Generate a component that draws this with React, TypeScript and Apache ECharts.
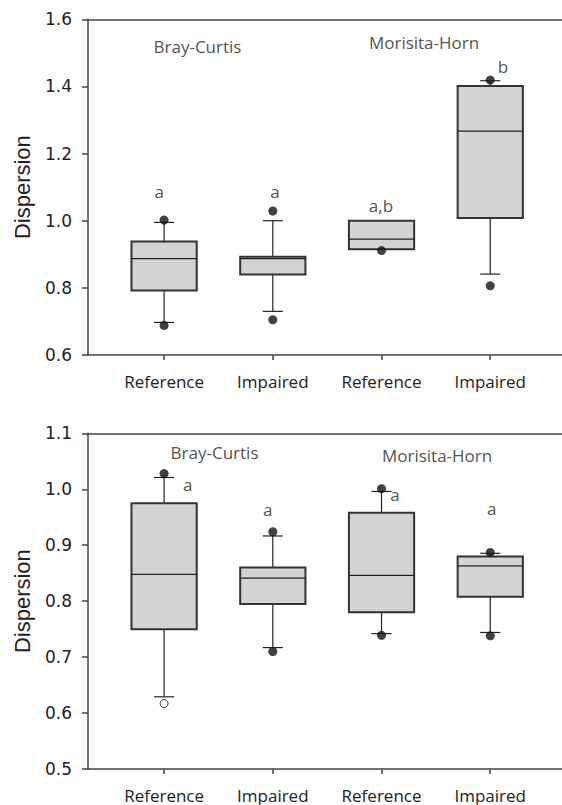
import React, { useEffect, useRef } from "react";
import * as echarts from "echarts";

const categories = ["Reference", "Impaired", "Reference", "Impaired"];
const categoryPositions = [1, 2, 3, 4];

// [position, lowWhisker, q1, median, q3, highWhisker]
const topBoxes = [
  [1, 0.697, 0.792, 0.887, 0.938, 0.995],
  [2, 0.730, 0.840, 0.887, 0.893, 1.000],
  [3, 0.915, 0.915, 0.945, 1.000, 1.000],
  [4, 0.841, 1.008, 1.267, 1.401, 1.417],
];
const topOutliers = [
  [1, 1.002], [1, 0.688], [2, 1.029], [2, 0.705], [3, 0.911], [4, 1.419], [4, 0.806],
];
const topLetters = [
  [0.956, 1.087, "a"],
  [2.02, 1.087, "a"],
  [2.995, 1.045, "a,b"],
  [4.118, 1.459, "b"],
];
const topTitles = [
  [1.307, 1.52, "Bray-Curtis"],
  [3.391, 1.532, "Morisita-Horn"],
];

const bottomBoxes = [
  [1, 0.629, 0.750, 0.848, 0.975, 1.021],
  [2, 0.717, 0.795, 0.841, 0.860, 0.9165],
  [3, 0.742, 0.780, 0.846, 0.958, 0.996],
  [4, 0.744, 0.808, 0.863, 0.880, 0.8855],
];
const bottomOutliers = [
  [1, 1.028], [2, 0.924], [2, 0.710], [3, 1.001], [3, 0.739], [4, 0.887], [4, 0.738],
];
const bottomOpenOutliers = [[1, 0.617]];
const bottomLetters = [
  [1.217, 1.008, "a"],
  [1.953, 0.963, "a"],
  [3.124, 0.990, "a"],
  [4.014, 0.966, "a"],
];
const bottomTitles = [
  [1.464, 1.065, "Bray-Curtis"],
  [3.511, 1.061, "Morisita-Horn"],
];

const AXIS_COLOR = "#444";
const TEXT_COLOR = "#222";
const LABEL_FONT = "'Open Sans', sans-serif";

const renderBox = (params: any, api: any) => {
  const x = api.value(0);
  const lo = api.coord([x, api.value(1)]);
  const q1 = api.coord([x, api.value(2)]);
  const med = api.coord([x, api.value(3)]);
  const q3 = api.coord([x, api.value(4)]);
  const hi = api.coord([x, api.value(5)]);
  const cx = lo[0];
  const hw = api.size([0.6, 0])[0] / 2;
  const cw = api.size([0.185, 0])[0] / 2;
  const ls = { stroke: "#222", lineWidth: 1.2 };
  return {
    type: "group",
    children: [
      { type: "line", shape: { x1: cx, y1: hi[1], x2: cx, y2: q3[1] }, style: ls },
      { type: "line", shape: { x1: cx, y1: q1[1], x2: cx, y2: lo[1] }, style: ls },
      { type: "line", shape: { x1: cx - cw, y1: hi[1], x2: cx + cw, y2: hi[1] }, style: ls },
      { type: "line", shape: { x1: cx - cw, y1: lo[1], x2: cx + cw, y2: lo[1] }, style: ls },
      {
        type: "rect",
        shape: { x: cx - hw, y: q3[1], width: 2 * hw, height: q1[1] - q3[1] },
        style: { fill: "#d3d3d3", stroke: "#333", lineWidth: 2 },
      },
      { type: "line", shape: { x1: cx - hw, y1: med[1], x2: cx + hw, y2: med[1] }, style: ls },
    ],
  };
};

function buildOption() {
  const xCommon = (gridIndex: number, labelMargin: number) => ({
    type: "value",
    gridIndex,
    min: 0.3,
    max: 4.66,
    position: "bottom",
    splitLine: { show: false },
    axisLine: { show: true, lineStyle: { color: AXIS_COLOR, width: 1.5 } },
    axisTick: {
      show: true,
      length: 5,
      lineStyle: { color: AXIS_COLOR, width: 1.5 },
      customValues: categoryPositions,
    },
    axisLabel: {
      show: true,
      customValues: categoryPositions,
      formatter: (v: number) => categories[Math.round(v) - 1] ?? "",
      fontFamily: LABEL_FONT,
      fontSize: 17,
      lineHeight: 18,
      color: TEXT_COLOR,
      margin: labelMargin,
    },
  });
  const xTop = (gridIndex: number) => ({
    type: "value",
    gridIndex,
    min: 0.3,
    max: 4.66,
    position: "top",
    splitLine: { show: false },
    axisLine: { show: true, lineStyle: { color: AXIS_COLOR, width: 1.5 } },
    axisTick: { show: false },
    axisLabel: { show: false },
  });
  const yCommon = (gridIndex: number, min: number, max: number, interval: number) => ({
    type: "value",
    gridIndex,
    min,
    max,
    interval,
    name: "Dispersion",
    nameLocation: "middle",
    nameGap: 55,
    nameTextStyle: { fontFamily: "'Liberation Sans', Arial, sans-serif", fontSize: 22, color: TEXT_COLOR },
    splitLine: { show: false },
    axisLine: { show: true, lineStyle: { color: AXIS_COLOR, width: 1.5 } },
    axisTick: { show: true, inside: false, length: 6, lineStyle: { color: AXIS_COLOR, width: 1.5 } },
    axisLabel: {
      formatter: (v: number) => v.toFixed(1),
      fontFamily: "'DejaVu Sans', sans-serif",
      fontSize: 17,
      color: TEXT_COLOR,
      margin: 16,
    },
  });

  const textSeries = (xAxisIndex: number, yAxisIndex: number, data: any[]) => ({
    type: "scatter",
    xAxisIndex,
    yAxisIndex,
    symbolSize: 0,
    silent: true,
    data: data.map((d) => ({ value: [d[0], d[1]], name: d[2] })),
    label: {
      show: true,
      position: "inside",
      formatter: (p: any) => p.name,
      fontFamily: LABEL_FONT,
      fontSize: 17,
      color: TEXT_COLOR,
    },
    z: 5,
  });

  const dotSeries = (xAxisIndex: number, yAxisIndex: number, data: number[][], open = false) => ({
    type: "scatter",
    xAxisIndex,
    yAxisIndex,
    symbol: "circle",
    symbolSize: open ? 8 : 9,
    itemStyle: open
      ? { color: "#fff", borderColor: "#111", borderWidth: 1 }
      : { color: "#111" },
    data,
    z: 4,
  });

  return {
    animation: false,
    backgroundColor: "#fff",
    grid: [
      { left: 88, right: 0, top: 19.3, height: 335.7 },
      { left: 88, right: 0, top: 433.3, height: 335.7 },
    ],
    xAxis: [xCommon(0, 17), xCommon(1, 17), xTop(0), xTop(1)],
    yAxis: [yCommon(0, 0.6, 1.6, 0.2), yCommon(1, 0.5, 1.1, 0.1)],
    series: [
      {
        type: "custom",
        xAxisIndex: 0,
        yAxisIndex: 0,
        renderItem: renderBox,
        encode: { x: 0, y: [1, 2, 3, 4, 5] },
        data: topBoxes,
        z: 2,
      },
      {
        type: "custom",
        xAxisIndex: 1,
        yAxisIndex: 1,
        renderItem: renderBox,
        encode: { x: 0, y: [1, 2, 3, 4, 5] },
        data: bottomBoxes,
        z: 2,
      },
      dotSeries(0, 0, topOutliers),
      dotSeries(1, 1, bottomOutliers),
      dotSeries(1, 1, bottomOpenOutliers, true),
      textSeries(0, 0, topLetters),
      textSeries(0, 0, topTitles),
      textSeries(1, 1, bottomLetters),
      textSeries(1, 1, bottomTitles),
    ],
  };
}

export default function App() {
  const ref = useRef<HTMLDivElement>(null);
  useEffect(() => {
    if (!ref.current) return;
    const chart = echarts.init(ref.current, null, { renderer: "svg" });
    chart.setOption(buildOption() as any);
    return () => chart.dispose();
  }, []);
  return (
    <div
      ref={ref}
      style={{ position: "fixed", left: 0, top: 0, width: 562, height: 805, background: "#fff" }}
    />
  );
}
